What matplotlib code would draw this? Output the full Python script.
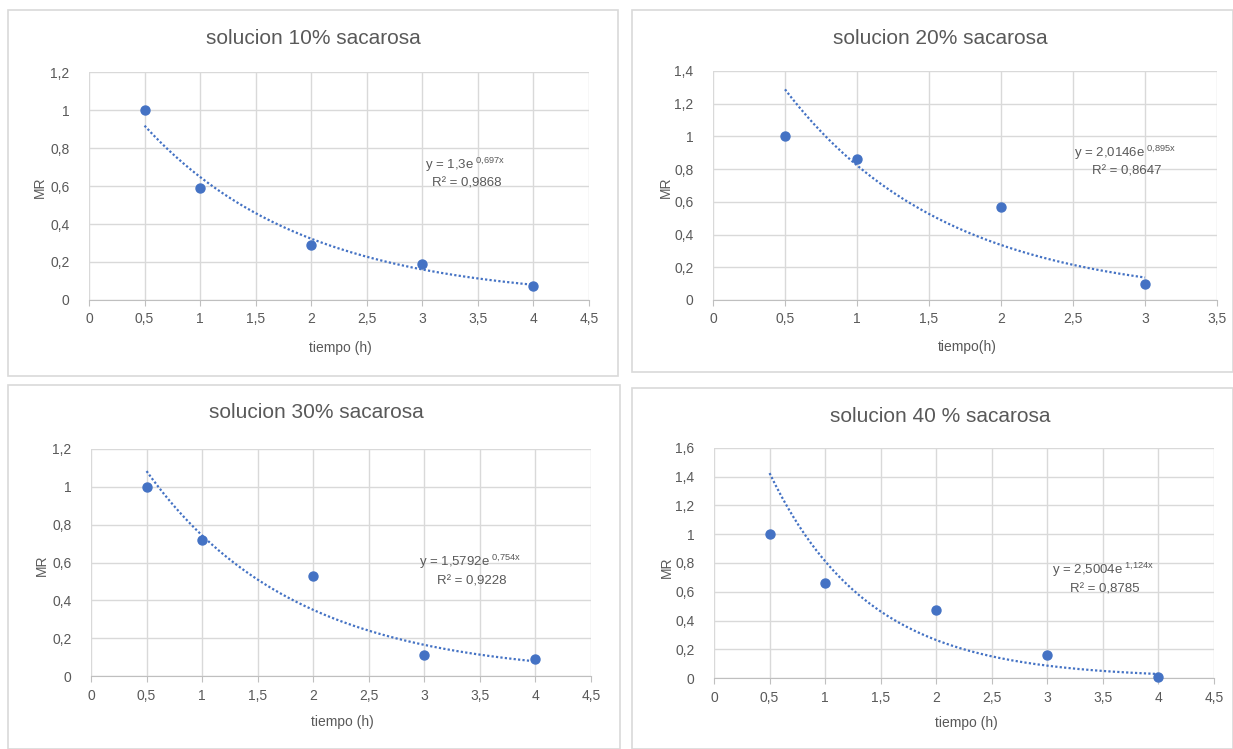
import numpy as np
import matplotlib.pyplot as plt
from matplotlib.patches import Rectangle
from matplotlib.ticker import FuncFormatter

plt.rcParams['font.family'] = ['Liberation Sans', 'DejaVu Sans']

# datos de cada grafico
titles = ["solucion 10% sacarosa", "solucion 20% sacarosa", "solucion 30% sacarosa", "solucion 40 % sacarosa"]
xlabels = ["tiempo (h)", "tiempo(h)", "tiempo (h)", "tiempo (h)"]
t10 = [0.5, 1, 2, 3, 4]
mr10 = [1.0, 0.59, 0.29, 0.19, 0.075]
t20 = [0.5, 1, 2, 3]
mr20 = [1.0, 0.86, 0.57, 0.095]
t30 = [0.5, 1, 2, 3, 4]
mr30 = [1.0, 0.72, 0.53, 0.11, 0.09]
t40 = [0.5, 1, 2, 3, 4]
mr40 = [1.0, 0.66, 0.47, 0.16, 0.01]
fit_a = [1.3, 2.0146, 1.5792, 2.5004]
fit_b = [0.697, 0.895, 0.754, 1.124]
eq_txt = ["0{,}697x", "0{,}895x", "0{,}754x", "1{,}124x"]
eq_a_txt = ["1,3", "2,0146", "1,5792", "2,5004"]
r2_txt = ["0,9868", "0,8647", "0,9228", "0,8785"]
xmax = [4.5, 3.5, 4.5, 4.5]
ymax = [1.2, 1.4, 1.2, 1.6]

W, H = 1233, 749
blue = "#4472C4"
grey_txt = "#595959"
grid_c = "#D9D9D9"

fig = plt.figure(figsize=(W / 100, H / 100), dpi=100)

def fx(px):
    return px / W

def fy(py):
    return 1 - py / H

# marcos de cada grafico (px)
frames = [(8, 10, 618, 376), (632, 10, 1233, 372), (8, 385, 620, 749), (632, 388, 1233, 749)]
for x0, y0, x1, y1 in frames:
    fig.patches.append(Rectangle((fx(x0), fy(y1)), fx(x1 - x0), (y1 - y0) / H,
                                 transform=fig.transFigure, fill=False,
                                 edgecolor="#D9D9D9", linewidth=1.2))

# area de trazado: x0, x1, y_bottom, y_top (px)
areas = [(89, 589, 300, 72), (713, 1217, 300, 71), (91, 591, 676, 449), (714, 1214, 678, 448)]
title_pos = [(313, 38), (940, 38), (316, 413), (940, 416)]
xlab_pos = [(340, 348), (967, 347), (342, 722), (966, 723)]
ylab_pos = [(40, 187), (666, 187), (42, 565), (667, 567)]
eq_pos = [(465, 165), (1125, 153), (470, 562), (1103, 570)]

datasets = [(t10, mr10), (t20, mr20), (t30, mr30), (t40, mr40)]

fmt = FuncFormatter(lambda v, p: ("%g" % round(v, 2)).replace(".", ","))

for i in range(4):
    x0, x1, yb, yt = areas[i]
    ax = fig.add_axes([fx(x0), fy(yb), fx(x1 - x0), (yb - yt) / H])
    t, mr = datasets[i]
    ax.set_xlim(0, xmax[i])
    ax.set_ylim(0, ymax[i])
    ax.set_xticks(np.arange(0, xmax[i] + 0.01, 0.5))
    ax.set_yticks(np.arange(0, ymax[i] + 0.01, 0.2))
    ax.xaxis.set_major_formatter(fmt)
    ax.yaxis.set_major_formatter(fmt)
    ax.grid(True, color=grid_c, linewidth=1)
    ax.set_axisbelow(True)
    for s in ["top", "right", "left"]:
        ax.spines[s].set_visible(False)
    ax.spines["bottom"].set_color("#BFBFBF")
    ax.tick_params(axis="x", colors="#BFBFBF", length=4, labelcolor=grey_txt, labelsize=10, pad=5)
    ax.tick_params(axis="y", length=0, labelcolor=grey_txt, labelsize=10, pad=14)

    # linea de tendencia exponencial
    xf = np.linspace(t[0], t[-1], 200)
    ax.plot(xf, fit_a[i] * np.exp(-fit_b[i] * xf), linestyle=(0, (1, 1)), color=blue, linewidth=1.6, clip_on=False)
    ax.scatter(t, mr, s=42, color=blue, zorder=3, clip_on=False)

    tx, ty = title_pos[i]
    fig.text(fx(tx), fy(ty), titles[i], ha="center", va="center", fontsize=15, color=grey_txt)
    lx, ly = xlab_pos[i]
    fig.text(fx(lx), fy(ly), xlabels[i], ha="center", va="center", fontsize=10, color=grey_txt)
    yx, yy = ylab_pos[i]
    fig.text(fx(yx), fy(yy), "MR", ha="center", va="center", rotation=90, fontsize=10, color=grey_txt)
    ex, ey = eq_pos[i]
    fig.text(fx(ex), fy(ey), "y = " + eq_a_txt[i] + "e$\\mathregular{^{\\ " + eq_txt[i] + "}}$",
             ha="center", va="center", fontsize=9.5, color=grey_txt)
    fig.text(fx(ex + 2), fy(ey + 19), "R² = " + r2_txt[i], ha="center", va="center", fontsize=9.5, color=grey_txt)

fig.savefig("out.png", dpi=100)
